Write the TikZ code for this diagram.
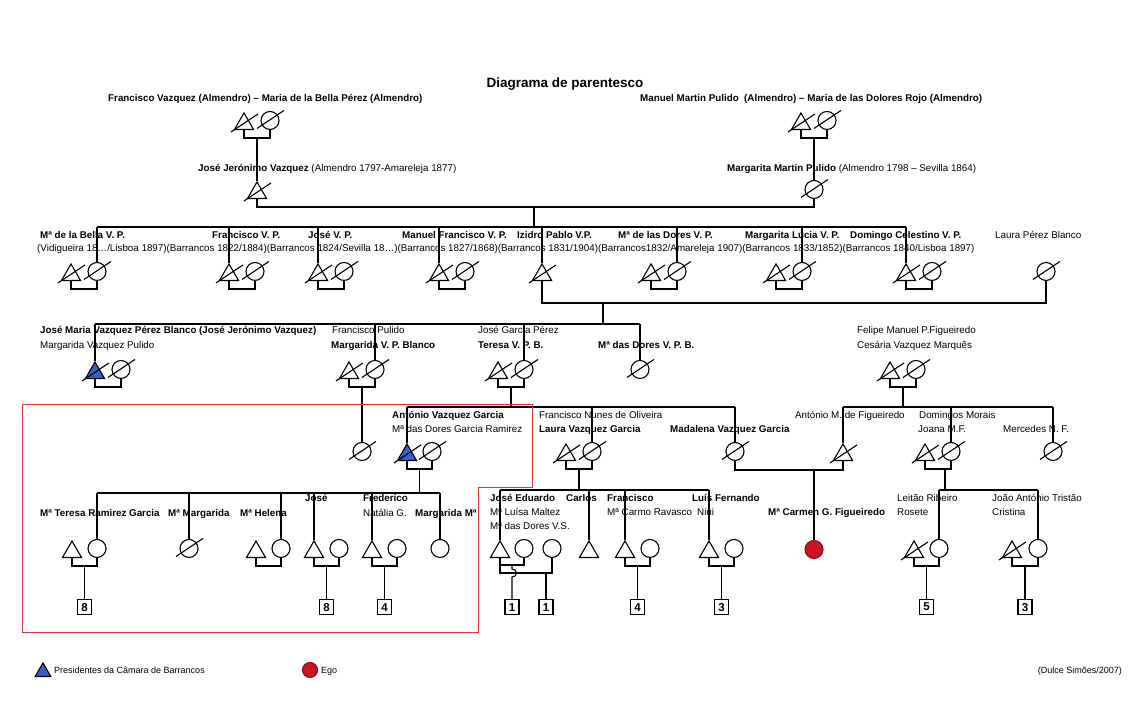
\documentclass[tikz,border=0pt]{standalone}
\usepackage{fontspec}
\setmainfont{Liberation Sans}
\usetikzlibrary{shapes.geometric,positioning,calc}

\definecolor{presblue}{RGB}{55,95,205}
\definecolor{egored}{RGB}{200,20,35}
\definecolor{boxred}{RGB}{215,55,55}

% slash through a deceased person
\newcommand\deceased[1]{\draw[kin] (#1.center) ++(-13pt,-8pt) -- ++(27pt,18pt);}
% marriage bracket, with its midpoint as a coordinate
\newcommand\couple[3]{%
  \draw[kin] (#1.south) -- ++(0,8) -| (#2.south);
  \coordinate (#3) at ($(#1.south)!0.5!(#2.south)+(0,8)$);}

\begin{document}
\begin{tikzpicture}[x=1pt, y=-1pt,
    kin/.style={line width=1.1pt},
    male/.style={draw, line width=1.1pt, regular polygon, regular polygon sides=3, minimum size=22pt, inner sep=0pt, anchor=south},
    female/.style={draw, line width=1.1pt, circle, minimum size=18pt, inner sep=0pt, anchor=south},
    pres/.style={fill=presblue},
    ego/.style={fill=egored, draw=egored!70!black},
    numbox/.style={draw, line width=1.1pt, minimum width=14pt, minimum height=15pt, inner sep=0pt, font=\fontsize{11.5}{11.5}\selectfont\bfseries},
    person/.style={anchor=west, inner sep=0pt, text height=7pt, text depth=2pt, font=\fontsize{9.8}{11}\selectfont\bfseries},
    detail/.style={anchor=west, inner sep=0pt, text height=7pt, text depth=2pt, font=\fontsize{9.8}{11}\selectfont}
]
    \useasboundingbox (0,0) rectangle (1131,724);

    \node[font=\fontsize{13.5}{15}\selectfont\bfseries] (title) at (565,84) {Diagrama de parentesco};

    % Generation 0
    \node[person] (l-fva) at (108,99) {Francisco Vazquez (Almendro) – Maria de la Bella Pérez (Almendro)};
    \node[person] (l-mmp) at (640,99) {Manuel Martin Pulido\ \ (Almendro) – Maria de las Dolores Rojo (Almendro)};
    \node[male] (fva) at (244,130) {};
    \node[female] (mbp) at (270,130) {};
    \node[male] (mmp) at (801,130) {};
    \node[female] (mdr) at (827,130) {};
    \couple{fva}{mbp}{c-fva}
    \couple{mmp}{mdr}{c-mmp}

    % Generation 1
    \node[detail] (l-jjv) at (198,169) {\textbf{José Jerónimo Vazquez} (Almendro 1797-Amareleja 1877)};
    \node[detail] (l-mmpu) at (727,169) {\textbf{Margarita Martin Pulido} (Almendro 1798 – Sevilla 1864)};
    \node[male] (jjv) at (257,199) {};
    \node[female] (mmpu) at (814,199) {};
    \draw[kin] (c-fva) -- (jjv.north);
    \draw[kin] (c-mmp) -- (mmpu.north);
    \draw[kin] (jjv.south) -- ++(0,8) -| (mmpu.south);
    \coordinate (m1) at (534,207);
    \coordinate (s2) at (0,227);
    \draw[kin] (m1) -- (m1 |- s2);

    % Generation 2
    \node[person] (l-bella) at (40,236) {Mª de la Bella V. P.};
    \node[person] (l-fran) at (212,236) {Francisco V. P.};
    \node[person] (l-jose) at (308,236) {José V. P.};
    \node[person] (l-manu) at (402,236) {Manuel Francisco V. P.};
    \node[person] (l-izid) at (517,236) {Izidro Pablo V.P.};
    \node[person] (l-dores) at (618,236) {Mª de las Dores V. P.};
    \node[person] (l-marg) at (745,236) {Margarita Lúcia V. P.};
    \node[person] (l-domi) at (850,236) {Domingo Celestino V. P.};
    \node[detail] (l-laura) at (995,236) {Laura Pérez Blanco};
    \node[detail] (d-gen2) at (37,249) {(Vidigueira 18…/Lisboa 1897)(Barrancos 1822/1884)(Barrancos 1824/Sevilla 18…)(Barrancos 1827/1868)(Barrancos 1831/1904)(Barrancos1832/Amareleja 1907)(Barrancos 1833/1852)(Barrancos 1840/Lisboa 1897)};

    \node[male] (bellah) at (71,281) {};
    \node[female] (bella) at (97,281) {};
    \node[male] (fran) at (229,281) {};
    \node[female] (franw) at (255,281) {};
    \node[male] (jose) at (318,281) {};
    \node[female] (josew) at (344,281) {};
    \node[male] (manu) at (439,281) {};
    \node[female] (manuw) at (465,281) {};
    \node[male] (izid) at (542,281) {};
    \node[male] (doresh) at (651,281) {};
    \node[female] (dores) at (677,281) {};
    \node[male] (margh) at (776,281) {};
    \node[female] (marg) at (802,281) {};
    \node[male] (domi) at (906,281) {};
    \node[female] (domiw) at (932,281) {};
    \node[female] (laura) at (1046,281) {};
    \couple{bellah}{bella}{c-bella}
    \couple{fran}{franw}{c-fran}
    \couple{jose}{josew}{c-jose}
    \couple{manu}{manuw}{c-manu}
    \couple{doresh}{dores}{c-dores}
    \couple{margh}{marg}{c-marg}
    \couple{domi}{domiw}{c-domi}
    \draw[kin] (bella |- s2) -- (domi |- s2);
    \foreach \n in {bella,fran,jose,manu,izid,dores,marg,domi}
        \draw[kin] (\n |- s2) -- (\n.north);
    \draw[kin] (izid.south) -- ++(0,22) -| (laura.south);
    \coordinate (m2) at (603,303);
    \coordinate (s3) at (0,324);
    \draw[kin] (m2) -- (m2 |- s3);

    % Generation 3
    \node[person] (l-jmv) at (40,331) {José Maria Vazquez Pérez Blanco (José Jerónimo Vazquez)};
    \node[detail] (d-jmv) at (40,346) {Margarida Vazquez Pulido};
    \node[detail] (d-marb) at (332,331) {Francisco Pulido};
    \node[person] (l-marb) at (331,346) {Margarida V. P. Blanco};
    \node[detail] (d-tere) at (478,331) {José Garcia Pérez};
    \node[person] (l-tere) at (478,346) {Teresa V. P. B.};
    \node[person] (l-mdvb) at (598,346) {Mª das Dores V. P. B.};
    \node[detail] (d-feli) at (857,331) {Felipe Manuel P.Figueiredo};
    \node[detail] (d-cesa) at (857,346) {Cesária Vazquez Marquês};

    \node[male, pres] (jmv) at (95,379) {};
    \node[female] (jmvw) at (121,379) {};
    \node[male] (marbh) at (349,379) {};
    \node[female] (marb) at (375,379) {};
    \node[male] (tereh) at (498,379) {};
    \node[female] (tere) at (524,379) {};
    \node[female] (mdvb) at (640,379) {};
    \node[male] (feli) at (890,379) {};
    \node[female] (cesa) at (916,379) {};
    \couple{jmv}{jmvw}{c-jmv}
    \couple{marbh}{marb}{c-marb}
    \couple{tereh}{tere}{c-tere}
    \couple{feli}{cesa}{c-feli}
    \draw[kin] (jmv |- s3) -- (mdvb |- s3);
    \foreach \n in {jmv,marb,tere,mdvb}
        \draw[kin] (\n |- s3) -- (\n.north);

    % Generation 4
    \node[person] (l-antv) at (392,416) {António Vazquez Garcia};
    \node[detail] (d-antv) at (392,430) {Mª das Dores Garcia Ramirez};
    \node[detail] (d-lauv) at (539,416) {Francisco Nunes de Oliveira};
    \node[person] (l-lauv) at (539,430) {Laura Vazquez Garcia};
    \node[person] (l-madv) at (670,430) {Madalena Vazquez Garcia};
    \node[detail] (l-antf) at (795,416) {António M. de Figueiredo};
    \node[detail] (d-joan) at (919,416) {Domingos Morais};
    \node[detail] (l-joan) at (918,430) {Joana M.F.};
    \node[detail] (l-merc) at (1003,430) {Mercedes N. F.};

    \node[female] (unk) at (362,461) {};
    \node[male, pres] (antv) at (407,461) {};
    \node[female] (antvw) at (432,461) {};
    \node[male] (lauvh) at (566,461) {};
    \node[female] (lauv) at (592,461) {};
    \node[female] (madv) at (735,461) {};
    \node[male] (antf) at (843,461) {};
    \node[male] (joanh) at (925,461) {};
    \node[female] (joan) at (951,461) {};
    \node[female] (merc) at (1053,461) {};
    \couple{antv}{antvw}{c-antv}
    \couple{lauvh}{lauv}{c-lauv}
    \couple{joanh}{joan}{c-joan}
    \draw[kin] (c-marb) -- (unk.north);
    \coordinate (s4) at (0,407);
    \draw[kin] (c-tere) -- (c-tere |- s4);
    \draw[kin] (antv |- s4) -- (madv |- s4);
    \foreach \n in {antv,lauv,madv}
        \draw[kin] (\n |- s4) -- (\n.north);
    \draw[kin] (c-feli) -- (c-feli |- s4);
    \draw[kin] (antf |- s4) -- (merc |- s4);
    \foreach \n in {antf,joan,merc}
        \draw[kin] (\n |- s4) -- (\n.north);
    \draw[kin] (madv.south) -- ++(0,9) -| (antf.south);

    % Generation 5
    \node[person] (l-mtrg) at (40,514) {Mª Teresa Ramirez Garcia};
    \node[person] (l-mmar) at (168,514) {Mª Margarida};
    \node[person] (l-mhel) at (240,514) {Mª Helena};
    \node[person] (l-jos5) at (305,499) {José};
    \node[person] (l-fred) at (363,499) {Frederico};
    \node[detail] (d-fred) at (363,514) {Natália G.};
    \node[person] (l-marm) at (415,514) {Margarida Mª};
    \node[person] (l-jedu) at (490,499) {José Eduardo};
    \node[detail] (d-jedu) at (490,513) {Mª Luísa Maltez};
    \node[detail] (d-jedu2) at (490,527) {Mª das Dores V.S.};
    \node[person] (l-carl) at (566,499) {Carlos};
    \node[person] (l-fra5) at (607,499) {Francisco};
    \node[detail] (d-fra5) at (607,513) {Mª Carmo Ravasco};
    \node[person] (l-luis) at (692,499) {Luís Fernando};
    \node[detail] (d-luis) at (697,513) {Nini};
    \node[person] (l-ego) at (768,513) {Mª Carmen G. Figueiredo};
    \node[detail] (l-leit) at (897,499) {Leitão Ribeiro};
    \node[detail] (d-leit) at (897,513) {Rosete};
    \node[detail] (l-joao) at (992,499) {João António Tristão};
    \node[detail] (d-joao) at (992,513) {Cristina};

    \node[male] (mtrgh) at (72,558) {};
    \node[female] (mtrg) at (97,558) {};
    \node[female] (mmar) at (189,558) {};
    \node[male] (mhelh) at (256,558) {};
    \node[female] (mhel) at (281,558) {};
    \node[male] (jos5) at (314,558) {};
    \node[female] (jos5w) at (339,558) {};
    \node[male] (fred) at (372,558) {};
    \node[female] (fredw) at (397,558) {};
    \node[female] (marm) at (440,558) {};
    \node[male] (jedu) at (500,558) {};
    \node[female] (jedw1) at (524,558) {};
    \node[female] (jedw2) at (552,558) {};
    \node[male] (carl) at (589,558) {};
    \node[male] (fra5) at (625,558) {};
    \node[female] (fra5w) at (650,558) {};
    \node[male] (luis) at (709,558) {};
    \node[female] (luisw) at (734,558) {};
    \node[female, ego] (ego) at (814,559) {};
    \node[male] (leit) at (914,558) {};
    \node[female] (rose) at (939,558) {};
    \node[male] (joao) at (1012,558) {};
    \node[female] (cris) at (1038,558) {};

    \coordinate (m3) at (814,470);
    \draw[kin] (m3) -- (ego.north);

    \coordinate (s5) at (0,493);
    \draw[kin] (c-antv) -- (c-antv |- s5);
    \draw[kin] (mtrg |- s5) -- (marm |- s5);
    \foreach \n in {mtrg,mmar,mhel,jos5,fred,marm}
        \draw[kin] (\n |- s5) -- (\n.north);

    \coordinate (s6) at (0,490);
    \draw[kin] (c-lauv) -- (c-lauv |- s6);
    \draw[kin] (jedu |- s6) -- (luis |- s6);
    \foreach \n in {jedu,carl,fra5,luis}
        \draw[kin] (\n |- s6) -- (\n.north);
    \coordinate (m4) at (945,469);
    \draw[kin] (m4) -- (m4 |- s6);
    \draw[kin] (rose |- s6) -- (cris |- s6);
    \foreach \n in {rose,cris}
        \draw[kin] (\n |- s6) -- (\n.north);

    \couple{mtrgh}{mtrg}{c-mtrg}
    \couple{mhelh}{mhel}{c-mhel}
    \couple{jos5}{jos5w}{c-jos5}
    \couple{fred}{fredw}{c-fred}
    \couple{fra5}{fra5w}{c-fra5}
    \couple{luis}{luisw}{c-luis}
    \couple{leit}{rose}{c-leit}
    \couple{joao}{cris}{c-joao}

    % José Eduardo and his two wives
    \draw[kin] (jedu.south) -- ++(0,7) -| (jedw1.south);
    \draw[kin] (jedu.south) -- ++(0,15) -| (jedw2.south);
    \coordinate (c-jedu1) at ($(jedu.south)!0.5!(jedw1.south)+(0,7)$);
    \coordinate (c-jedu2) at (546,573);

    % Descendants
    \node[numbox, below=33pt of c-mtrg] (b1) {8};
    \node[numbox, below=33pt of c-jos5] (b2) {8};
    \node[numbox, below=33pt of c-fred] (b3) {4};
    \node[numbox, below=34pt of c-jedu1] (b4) {1};
    \node[numbox, below=26pt of c-jedu2] (b5) {1};
    \node[numbox, below=33pt of c-fra5] (b6) {4};
    \node[numbox, below=33pt of c-luis] (b7) {3};
    \node[numbox, below=33pt of c-leit] (b8) {5};
    \node[numbox, below=33pt of c-joao] (b9) {3};
    \foreach \c/\b in {c-mtrg/b1,c-jos5/b2,c-fred/b3,c-jedu2/b5,c-fra5/b6,c-luis/b7,c-leit/b8,c-joao/b9}
        \draw[kin] (\c) -- (\b);
    \draw[kin] (c-jedu1) -- ++(0,4) .. controls +(6,0) and +(6,0) .. ++(0,8) -- (b4);

    % Deceased
    \foreach \n in {fva,mbp,mmp,mdr,jjv,mmpu,bellah,bella,fran,franw,jose,josew,manu,manuw,izid,doresh,dores,margh,marg,domi,domiw,laura,jmv,jmvw,marbh,marb,tereh,tere,mdvb,feli,cesa,unk,antv,antvw,lauvh,lauv,madv,antf,joanh,joan,merc,mmar,leit,joao}
        {\deceased{\n}}

    % Ego's branch
    \draw[boxred, line width=0.9pt] (22,404) -- (532,404) -- (532,487) -- (478,487) -- (478,632) -- (22,632) -- cycle;

    % Legend
    \node[male, pres, minimum size=18pt] (leg-pres) at (43,677) {};
    \node[detail, font=\fontsize{9}{10}\selectfont] (leg-pres-t) at (54,671) {Presidentes da Câmara de Barrancos};
    \node[female, ego, minimum size=15pt] (leg-ego) at (310,678) {};
    \node[detail, font=\fontsize{9}{10}\selectfont] (leg-ego-t) at (321,671) {Ego};
    \node[detail, anchor=east, font=\fontsize{9}{10}\selectfont] (credit) at (1122,671) {(Dulce Simões/2007)};
\end{tikzpicture}
\end{document}
